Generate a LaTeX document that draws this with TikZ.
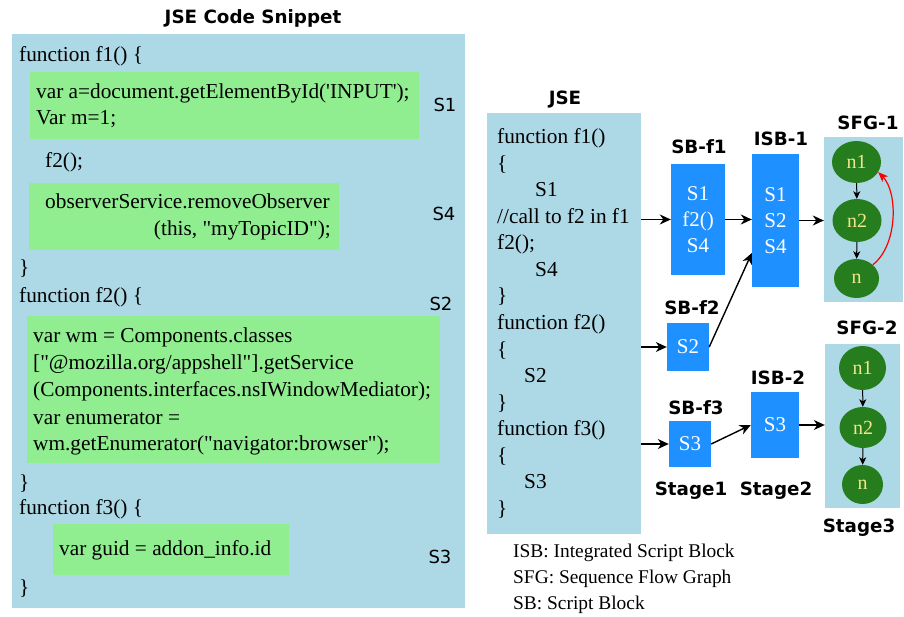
\documentclass[tikz,border=0pt]{standalone}
\usepackage{fontspec}
\setmainfont{Liberation Serif}
\newfontfamily\labelfont{DejaVu Sans}
\usetikzlibrary{arrows.meta,shapes.geometric}
\definecolor{panelblue}{HTML}{ADD8E6}
\definecolor{codegreen}{HTML}{90EE90}
\definecolor{blockblue}{HTML}{1E90FF}
\definecolor{nodegreen}{RGB}{38,125,30}
\definecolor{nodetext}{HTML}{F0E68C}
\begin{document}
\begin{tikzpicture}[x=1pt,y=-1pt,
  code/.style={anchor=base west, inner sep=0pt, font=\fontsize{21.3}{26.5}\selectfont},
  legend/.style={anchor=base west, inner sep=0pt, font=\fontsize{19.4}{24}\selectfont},
  title/.style={anchor=base, inner sep=0pt, font=\labelfont\bfseries\fontsize{18.3}{22}\selectfont},
  slabel/.style={anchor=base, inner sep=0pt, font=\labelfont\fontsize{18}{22}\selectfont},
  panel/.style={fill=panelblue, draw=none, inner sep=0pt},
  block/.style={fill=blockblue, text=white, align=center, inner sep=0pt, font=\fontsize{21}{26}\selectfont},
  state/.style={ellipse, fill=nodegreen, text=nodetext, inner sep=0pt, font=\fontsize{20}{24}\selectfont},
  arr/.style={draw=black, line width=1.4pt, -{Stealth[length=11pt,width=10pt,inset=3.5pt]}},
  sarr/.style={draw=black, line width=1pt, -{Stealth[length=7.5pt,width=7pt,inset=2pt]}},
]
\useasboundingbox (0,0) rectangle (904,617);

% ---------- left: code snippet ----------
\node[title] (snippettitle) at (253,23.5) {JSE Code Snippet};
\node[panel, minimum width=453pt, minimum height=574pt] (snippet) at (238.5,321) {};
\fill[codegreen] (30,72) rectangle (419,139);
\fill[codegreen] (29,183) rectangle (339,250);
\fill[codegreen] (27,316) rectangle (440,463);
\fill[codegreen] (53,524) rectangle (289,575);

\node[code] (c1)  at (19,62)  {function f1() \{};
\node[code] (c2)  at (36,99)  {var a=document.getElementById(\textquotesingle INPUT\textquotesingle);};
\node[code] (c3)  at (36,125) {Var m=1;};
\node[code] (c4)  at (45,168) {f2();};
\node[code] (c5)  at (45,209) {observerService.removeObserver};
\node[code, anchor=base east] (c6) at (331,236) {(this, \textquotedbl myTopicID\textquotedbl);};
\node[code] (c7)  at (19,275) {\}};
\node[code] (c8)  at (19,302) {function f2() \{};
\node[code] (c9)  at (33,342) {var wm = Components.classes};
\node[code] (c10) at (33,369) {[\textquotedbl @mozilla.org/appshell\textquotedbl].getService};
\node[code] (c11) at (33,396) {(Components.interfaces.nsIWindowMediator);};
\node[code] (c12) at (33,424) {var enumerator =};
\node[code] (c13) at (33,450) {wm.getEnumerator(\textquotedbl navigator:browser\textquotedbl);};
\node[code] (c14) at (19,489) {\}};
\node[code] (c15) at (19,514) {function f3() \{};
\node[code] (c16) at (59,555) {var guid = addon\_info.id};
\node[code] (c17) at (19,594) {\}};

\node[slabel] (ls1) at (445,111.5) {S1};
\node[slabel] (ls4) at (444,220.5) {S4};
\node[slabel] (ls2) at (441,310) {S2};
\node[slabel] (ls3) at (440,563.5) {S3};

% ---------- right: JSE source ----------
\node[title] (jsetitle) at (565,104.5) {JSE};
\node[panel, minimum width=154pt, minimum height=421pt] (jse) at (564,323.5) {};
\node[code] (j1)  at (497,144)   {function f1()};
\node[code] (j2)  at (497,170.5) {\{};
\node[code] (j3)  at (535,197)   {S1};
\node[code] (j4)  at (497,223.5) {//call to f2 in f1};
\node[code] (j5)  at (497,250)   {f2();};
\node[code] (j6)  at (535,276.5) {S4};
\node[code] (j7)  at (497,303)   {\}};
\node[code] (j8)  at (497,329.5) {function f2()};
\node[code] (j9)  at (497,356)   {\{};
\node[code] (j10) at (524,382.5) {S2};
\node[code] (j11) at (497,409)   {\}};
\node[code] (j12) at (497,435.5) {function f3()};
\node[code] (j13) at (497,462)   {\{};
\node[code] (j14) at (524,488.5) {S3};
\node[code] (j15) at (497,515)   {\}};

% ---------- script blocks ----------
\node[block, minimum width=54pt, minimum height=111pt] (sbf1) at (698,219.5) {S1\\f2()\\S4};
\node[block, minimum width=47pt, minimum height=133pt] (isb1) at (775.5,220.5) {S1\\S2\\S4};
\node[block, minimum width=42pt, minimum height=48pt] (sbf2) at (688,347) {S2};
\node[block, minimum width=42pt, minimum height=46pt] (sbf3) at (690,444) {S3};
\node[block, minimum width=48pt, minimum height=66pt] (isb2) at (775,425) {S3};

\node[title] (tsbf1) at (699,153.5) {SB-f1};
\node[title] (tisb1) at (781,145.5) {ISB-1};
\node[title] (tsfg1) at (868,129.5) {SFG-1};
\node[title] (tsbf2) at (692,314.5) {SB-f2};
\node[title] (tsbf3) at (696,414.5) {SB-f3};
\node[title] (tisb2) at (778,384.5) {ISB-2};
\node[title] (tsfg2) at (867,334.5) {SFG-2};
\node[title] (st1) at (691,495.5) {Stage1};
\node[title] (st2) at (776,495.5) {Stage2};
\node[title] (st3) at (859,532.5) {Stage3};

% ---------- sequence flow graphs ----------
\node[panel, minimum width=79pt, minimum height=165pt] (sfg1) at (863.5,219.5) {};
\node[panel, minimum width=75pt, minimum height=164pt] (sfg2) at (862.5,426) {};

\node[state, minimum width=49pt, minimum height=42pt] (a1) at (856.5,162)   {n1};
\node[state, minimum width=49pt, minimum height=43pt] (a2) at (857,220.5)   {n2};
\node[state, minimum width=45pt, minimum height=39pt] (a3) at (856.5,278.5) {n};
\node[state, minimum width=47pt, minimum height=44pt] (b1) at (862.5,368)   {n1};
\node[state, minimum width=47pt, minimum height=41pt] (b2) at (863,427.5)   {n2};
\node[state, minimum width=41pt, minimum height=39pt] (b3) at (862.5,484.5) {n};

\draw[sarr] (a1) -- (a2);
\draw[sarr] (a2) -- (a3);
\draw[sarr] (b1) -- (b2);
\draw[sarr] (b2) -- (b3);
\draw[red, line width=1.2pt, -{Stealth[length=10pt,width=8pt,inset=3pt]}]
  (a3.40) .. controls (898,245) and (898,192) .. (a1.-25);

% ---------- connectors ----------
\draw[arr] (jse.east |- sbf1.west) -- (sbf1.west);
\draw[arr] (sbf1.east) -- (sbf1.east -| isb1.west);
\draw[arr] (isb1.east) -- (isb1.east -| sfg1.west);
\draw[arr] (jse.east |- sbf2.west) -- (sbf2.west);
\draw[arr] (sbf2.east) -- (isb1.west |- 0,253);
\draw[arr] (jse.east |- sbf3.west) -- (sbf3.west);
\draw[arr] (sbf3.east) -- (isb2.west);
\draw[arr] (isb2.east) -- (isb2.east -| sfg2.west);

% ---------- legend ----------
\node[legend] (l1) at (513,557) {ISB: Integrated Script Block};
\node[legend] (l2) at (513,583) {SFG: Sequence Flow Graph};
\node[legend] (l3) at (513,609) {SB: Script Block};
\end{tikzpicture}
\end{document}
